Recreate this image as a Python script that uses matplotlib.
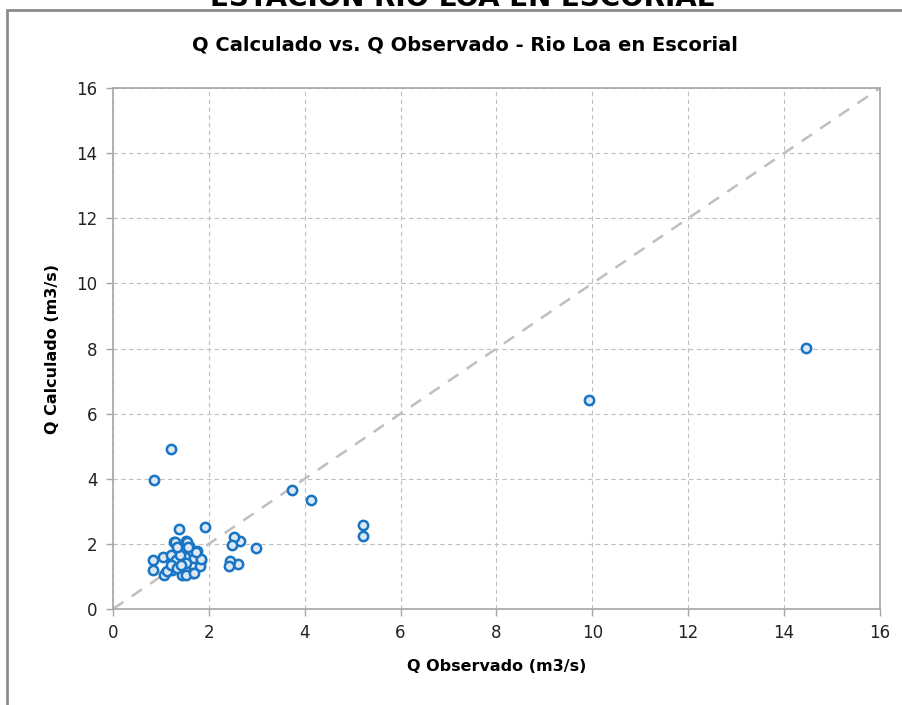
import numpy as np
import matplotlib
matplotlib.use("Agg")
import matplotlib.pyplot as plt
from matplotlib.patches import Rectangle

# Datos (Q observado, Q calculado), m3/s
q_obs = [14.46, 9.93, 5.22, 5.22, 4.13, 3.73, 2.98, 2.64, 2.52, 2.49,
         2.61, 2.44, 2.43, 1.92, 1.38, 1.21, 0.86,
         1.28, 1.52, 1.34, 1.58, 1.75, 0.84, 1.05, 1.24, 1.32, 1.50,
         1.70, 1.83, 0.84, 1.10, 1.51, 1.67, 1.81, 1.24, 1.07, 1.22,
         1.12, 1.31, 1.40, 1.43, 1.52, 1.52, 1.69, 1.84, 1.74, 1.55,
         1.29, 1.22, 1.33, 1.41, 1.57, 1.33]
q_calc = [8.02, 6.42, 2.58, 2.24, 3.35, 3.66, 1.87, 2.08, 2.22, 1.97,
          1.38, 1.46, 1.32, 2.53, 2.47, 4.91, 3.96,
          2.07, 2.09, 1.93, 1.93, 1.78, 1.50, 1.61, 1.61, 1.53, 1.61,
          1.58, 1.50, 1.19, 1.15, 1.27, 1.10, 1.33, 1.20, 1.04, 1.66,
          1.17, 1.50, 1.66, 1.04, 1.40, 1.04, 1.12, 1.53, 1.76, 2.07,
          2.07, 1.35, 1.25, 1.35, 1.91, 1.91]

ticks = [0, 2, 4, 6, 8, 10, 12, 14, 16]

fig = plt.figure(figsize=(9.03, 7.05), dpi=100)
ax = fig.add_axes([113/903, 1-609/705, (880-113)/903, (609-88)/705])

# marco exterior del grafico
fig.patches.append(Rectangle((7/903, -0.1), 1.2, 1.1-10/705, transform=fig.transFigure,
                             fill=False, edgecolor='#8c8c8c', linewidth=2))

# linea 1:1
ax.plot([0, 16], [0, 16], color='#bfbfbf', linestyle=(0, (5, 4)), linewidth=1.8, zorder=2)

ax.scatter(q_obs, q_calc, s=45, facecolor='#dde8f4', edgecolor='#1874c4',
           linewidth=1.8, zorder=3)

ax.set_xlim(0, 16)
ax.set_ylim(0, 16)
ax.set_xticks(ticks)
ax.set_yticks(ticks)
ax.grid(True, color='#bfbfbf', linestyle=(0, (4, 3)), linewidth=0.8)
ax.set_axisbelow(True)
for s in ax.spines.values():
    s.set_color('#a6a6a6')
    s.set_linewidth(1.2)
ax.tick_params(colors='#a6a6a6', labelcolor='#222222', labelsize=12, length=5, width=1, pad=6)

ax.set_xlabel('Q Observado (m3/s)', fontsize=11.5, fontweight='bold', labelpad=12)
ax.set_ylabel('Q Calculado (m3/s)', fontsize=11.5, fontweight='bold', labelpad=12)

fig.text(465/903, 1-45/705, 'Q Calculado vs. Q Observado - Rio Loa en Escorial',
         ha='center', va='center', fontsize=14, fontweight='bold')
fig.text(462/903, 1-6/705, 'ESTACION RIO LOA EN ESCORIAL',
         ha='center', va='baseline', fontsize=20, fontweight='bold')

fig.savefig('out.png', dpi=100)
